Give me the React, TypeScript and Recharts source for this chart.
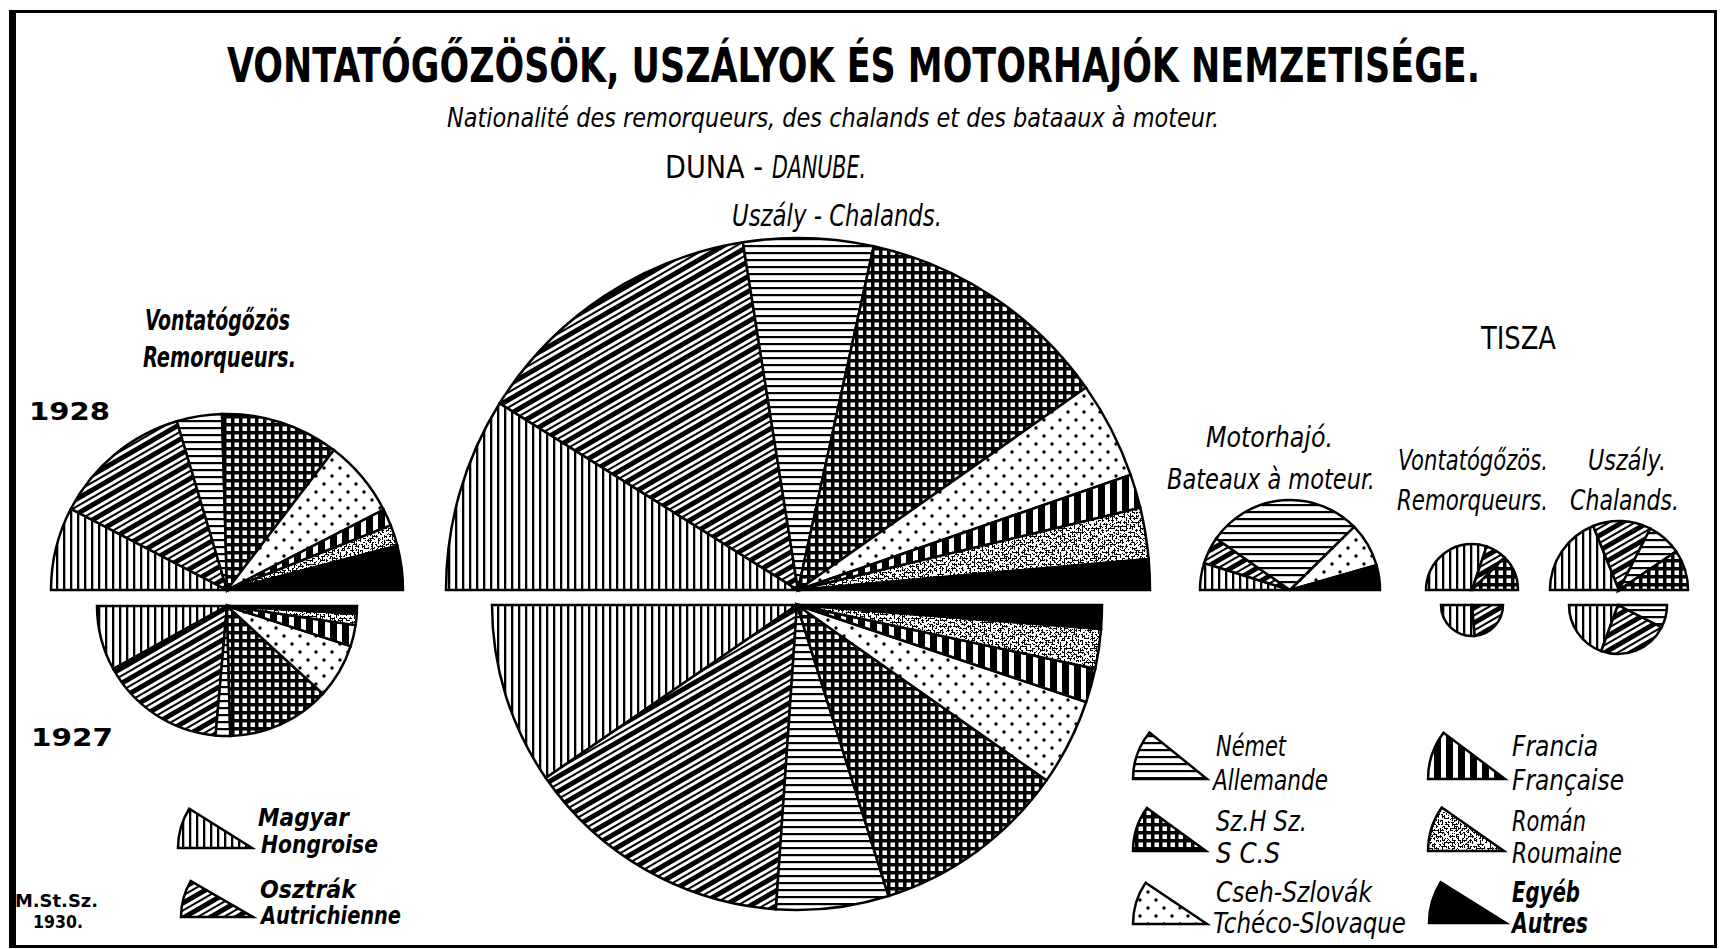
import React from "react";
import { PieChart, Pie, Cell } from "recharts";

// nationality categories, in the order the slices run round each half-disc
const categories = ["Magyar", "Osztrák", "Német", "Sz.H.Sz.", "Cseh-Szlovák", "Francia", "Román", "Egyéb"];

const danubeTugs1928 = [15.3, 25.6, 8.3, 21.7, 14.2, 3.1, 3.9, 8.1];
const danubeTugs1927 = [16.1, 31.1, 3.6, 25.6, 13.6, 5.3, 2.8, 1.9];
const danubeBarges1928 = [17.8, 27.2, 11.9, 23.6, 8.9, 3.1, 4.7, 2.8];
const danubeBarges1927 = [19.2, 28.6, 11.9, 20.8, 9.2, 3.6, 4.2, 2.5];
const tiszaMotor1928 = [9.7, 9.7, 55.8, 0, 15.8, 0, 0, 8.9];
const tiszaTugs1928 = [60.3, 14.7, 0, 25, 0, 0, 0, 0];
const tiszaTugs1927 = [52.8, 47.2, 0, 0, 0, 0, 0, 0];
const tiszaBarges1928 = [37.8, 27.2, 16.1, 18.9, 0, 0, 0, 0];
const tiszaBarges1927 = [38.9, 46.1, 15, 0, 0, 0, 0, 0];

const fills = [
  "url(#p-vert)",
  "url(#p-diag)",
  "url(#p-horiz)",
  "url(#p-grid)",
  "url(#p-dots)",
  "url(#p-bars)",
  "url(#p-speck)",
  "#000",
];

const rows = (values: number[]) =>
  categories
    .map((name, i) => ({ name, value: values[i], fill: fills[i] }))
    .filter((d) => d.value > 0);

// half-discs: upper = 1928, lower = 1927
const discs = [
  { id: "dt28", values: danubeTugs1928, cx: 227, cy: 590, r: 176, up: true },
  { id: "dt27", values: danubeTugs1927, cx: 227, cy: 606, r: 130, up: false },
  { id: "db28", values: danubeBarges1928, cx: 798, cy: 590, r: 352, up: true },
  { id: "db27", values: danubeBarges1927, cx: 797, cy: 605, r: 305, up: false },
  { id: "tm28", values: tiszaMotor1928, cx: 1290, cy: 590, r: 90, up: true },
  { id: "tt28", values: tiszaTugs1928, cx: 1472, cy: 590, r: 46, up: true },
  { id: "tt27", values: tiszaTugs1927, cx: 1472, cy: 605, r: 31, up: false },
  { id: "tb28", values: tiszaBarges1928, cx: 1619, cy: 590, r: 69, up: true },
  { id: "tb27", values: tiszaBarges1927, cx: 1618, cy: 605, r: 49, up: false },
];

// legend wedges (category index, tip position, radius, opening angle)
const keys = [
  { i: 0, cx: 252, cy: 848, r: 74, end: 148 },
  { i: 1, cx: 253, cy: 917, r: 72, end: 150 },
  { i: 2, cx: 1207, cy: 779, r: 74, end: 141 },
  { i: 3, cx: 1206, cy: 851, r: 73, end: 144 },
  { i: 4, cx: 1207, cy: 924, r: 74, end: 146 },
  { i: 5, cx: 1505, cy: 779, r: 77, end: 143 },
  { i: 6, cx: 1504, cy: 851, r: 76, end: 145 },
  { i: 7, cx: 1506, cy: 923, r: 77, end: 148 },
];

const FONT = '"DejaVu Sans Condensed", "DejaVu Sans", sans-serif';

type T = { t: string; x: number; y: number; w: number; s: number; b?: boolean; i?: boolean; sy?: number };
const texts: T[] = [
  { t: "VONTATÓGŐZÖSÖK, USZÁLYOK ÉS MOTORHAJÓK NEMZETISÉGE.", x: 227, y: 82, w: 1253, s: 34, b: true, sy: 1.42 },
  { t: "Nationalité des remorqueurs, des chalands et des bataaux à moteur.", x: 447, y: 127, w: 772, s: 27, i: true },
  { t: "DUNA -", x: 665, y: 178, w: 98, s: 32 },
  { t: "DANUBE.", x: 772, y: 178, w: 94, s: 32, i: true },
  { t: "Uszály - Chalands.", x: 732, y: 226, w: 210, s: 30, i: true },
  { t: "Vontatógőzös", x: 145, y: 330, w: 145, s: 28, b: true, i: true },
  { t: "Remorqueurs.", x: 143, y: 367, w: 153, s: 28, b: true, i: true },
  { t: "1928", x: 29, y: 420, w: 81, s: 25, b: true },
  { t: "1927", x: 31, y: 746, w: 82, s: 25, b: true },
  { t: "TISZA", x: 1481, y: 349, w: 75, s: 32 },
  { t: "Motorhajó.", x: 1206, y: 447, w: 127, s: 28, i: true },
  { t: "Bateaux à moteur.", x: 1167, y: 489, w: 208, s: 28, i: true },
  { t: "Vontatógőzös.", x: 1398, y: 470, w: 150, s: 28, i: true },
  { t: "Remorqueurs.", x: 1397, y: 510, w: 151, s: 28, i: true },
  { t: "Uszály.", x: 1588, y: 470, w: 78, s: 28, i: true },
  { t: "Chalands.", x: 1570, y: 510, w: 109, s: 28, i: true },
  { t: "Magyar", x: 258, y: 826, w: 91, s: 25, b: true, i: true },
  { t: "Hongroise", x: 261, y: 853, w: 117, s: 25, b: true, i: true },
  { t: "Osztrák", x: 260, y: 898, w: 96, s: 25, b: true, i: true },
  { t: "Autrichienne", x: 261, y: 924, w: 140, s: 25, b: true, i: true },
  { t: "Német", x: 1216, y: 756, w: 70, s: 28, i: true },
  { t: "Allemande", x: 1213, y: 790, w: 115, s: 28, i: true },
  { t: "Sz.H Sz.", x: 1216, y: 831, w: 91, s: 28, i: true },
  { t: "S C.S", x: 1216, y: 863, w: 64, s: 28, i: true },
  { t: "Cseh-Szlovák", x: 1216, y: 902, w: 156, s: 28, i: true },
  { t: "Tchéco-Slovaque", x: 1213, y: 933, w: 193, s: 28, i: true },
  { t: "Francia", x: 1512, y: 756, w: 86, s: 28, i: true },
  { t: "Française", x: 1512, y: 790, w: 112, s: 28, i: true },
  { t: "Román", x: 1512, y: 831, w: 74, s: 28, i: true },
  { t: "Roumaine", x: 1512, y: 863, w: 110, s: 28, i: true },
  { t: "Egyéb", x: 1512, y: 902, w: 68, s: 28, b: true, i: true },
  { t: "Autres", x: 1512, y: 933, w: 76, s: 28, b: true, i: true },
  { t: "M.St.Sz.", x: 15, y: 907, w: 83, s: 17, b: true },
  { t: "1930.", x: 33, y: 928, w: 50, s: 17, b: true },
];

const binary = "0 0 0 0 0 0 0 0 0 0 1 1 1 1 1 1 1 1 1 1";

function Patterns() {
  return (
    <svg width={0} height={0} style={{ position: "absolute" }}>
      <defs>
        <pattern id="p-vert" width={7} height={7} patternUnits="userSpaceOnUse">
          <rect width={7} height={7} fill="#fff" />
          <rect width={2.3} height={7} fill="#000" />
        </pattern>
        <pattern id="p-diag" width={13} height={13} patternUnits="userSpaceOnUse" patternTransform="rotate(-30)">
          <rect width={13} height={13} fill="#fff" />
          <rect width={13} height={5} fill="#000" />
          <rect y={8} width={13} height={2} fill="#000" />
        </pattern>
        <pattern id="p-horiz" width={7} height={7} patternUnits="userSpaceOnUse">
          <rect width={7} height={7} fill="#fff" />
          <rect width={7} height={2.2} fill="#000" />
        </pattern>
        <pattern id="p-grid" width={8} height={8} patternUnits="userSpaceOnUse">
          <rect width={8} height={8} fill="#000" />
          <rect x={2.5} y={2.5} width={4.5} height={4.5} fill="#fff" />
        </pattern>
        <pattern id="p-dots" width={16} height={16} patternUnits="userSpaceOnUse">
          <rect width={16} height={16} fill="#fff" />
          <circle cx={4} cy={4} r={1.7} fill="#000" />
          <circle cx={12} cy={12} r={1.7} fill="#000" />
        </pattern>
        <pattern id="p-bars" width={12} height={12} patternUnits="userSpaceOnUse">
          <rect width={12} height={12} fill="#000" />
          <rect x={1} width={5} height={12} fill="#fff" />
        </pattern>
        <filter id="speckle" x="0" y="0" width="1" height="1" colorInterpolationFilters="sRGB">
          <feTurbulence type="fractalNoise" baseFrequency="0.5" numOctaves={2} seed={7} result="n" />
          <feColorMatrix in="n" type="matrix" values="1 0 0 0 0  1 0 0 0 0  1 0 0 0 0  0 0 0 0 1" result="g" />
          <feComponentTransfer in="g">
            <feFuncR type="discrete" tableValues={binary} />
            <feFuncG type="discrete" tableValues={binary} />
            <feFuncB type="discrete" tableValues={binary} />
          </feComponentTransfer>
        </filter>
        <pattern id="p-speck" width={90} height={90} patternUnits="userSpaceOnUse">
          <rect width={90} height={90} fill="#000" filter="url(#speckle)" />
        </pattern>
      </defs>
    </svg>
  );
}

export default function App() {
  return (
    <div
      style={{
        position: "absolute",
        left: 0,
        top: 0,
        width: 1721,
        height: 949,
        background: "#fff",
        overflow: "hidden",
      }}
    >
      <Patterns />

      {/* frame */}
      <div
        style={{
          position: "absolute",
          left: 9,
          top: 10,
          width: 1708,
          height: 938,
          boxSizing: "border-box",
          borderLeft: "7px solid #000",
          borderTop: "3px solid #000",
          borderRight: "3px solid #000",
          borderBottom: "3px solid #000",
        }}
      />

      <div style={{ position: "absolute", left: 0, top: 0 }}>
        <PieChart width={1721} height={949} margin={{ top: 0, right: 0, bottom: 0, left: 0 }}>
          {discs.map((d) => {
            const data = rows(d.values);
            return (
              <Pie
                key={d.id}
                data={data}
                dataKey="value"
                nameKey="name"
                cx={d.cx}
                cy={d.cy}
                innerRadius={0}
                outerRadius={d.r}
                startAngle={180}
                endAngle={d.up ? 0 : 360}
                stroke="#000"
                strokeWidth={2.5}
                isAnimationActive={false}
              >
                {data.map((e) => (
                  <Cell key={e.name} fill={e.fill} />
                ))}
              </Pie>
            );
          })}
          {keys.map((k) => (
            <Pie
              key={"key" + k.i}
              data={[{ name: categories[k.i], value: 1 }]}
              dataKey="value"
              cx={k.cx}
              cy={k.cy}
              innerRadius={0}
              outerRadius={k.r}
              startAngle={180}
              endAngle={k.end}
              stroke="#000"
              strokeWidth={2.5}
              isAnimationActive={false}
            >
              <Cell fill={fills[k.i]} />
            </Pie>
          ))}
        </PieChart>
      </div>

      <svg
        width={1721}
        height={949}
        style={{ position: "absolute", left: 0, top: 0, pointerEvents: "none" }}
      >
        {texts.map((t, n) => (
          <text
            key={n}
            x={0}
            y={0}
            transform={`translate(${t.x},${t.y}) scale(1,${t.sy ?? 1})`}
            textLength={t.w}
            lengthAdjust="spacingAndGlyphs"
            fontFamily={FONT}
            fontSize={t.s}
            fontWeight={t.b ? "bold" : "normal"}
            fontStyle={t.i ? "italic" : "normal"}
            fill="#000"
          >
            {t.t}
          </text>
        ))}
      </svg>
    </div>
  );
}
